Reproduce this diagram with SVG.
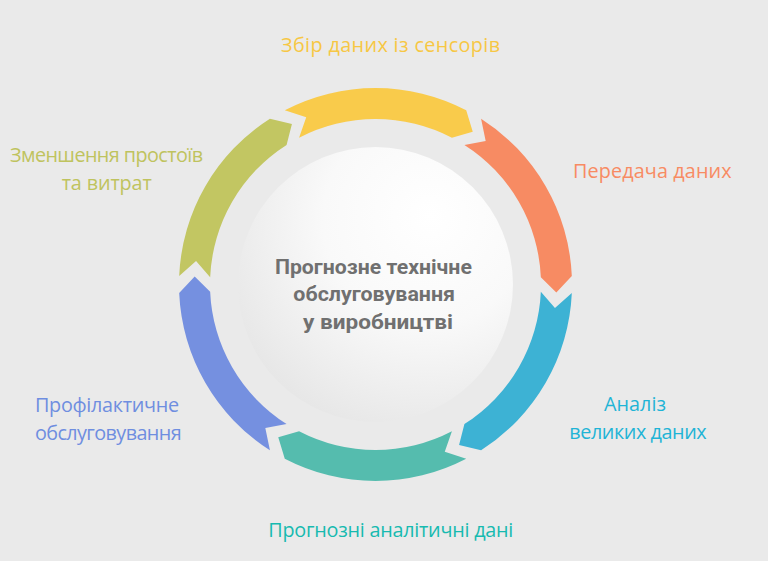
<svg xmlns="http://www.w3.org/2000/svg" width="768" height="561" viewBox="0 0 768 561">
  <defs>
    <radialGradient id="hub" cx="0.68" cy="0.28" r="0.85" fx="0.7" fy="0.25">
      <stop offset="0" stop-color="#ffffff"/>
      <stop offset="0.45" stop-color="#f9f9f9"/>
      <stop offset="1" stop-color="#e4e4e4"/>
    </radialGradient>
    <path id="seg" d="M -90.73 -174.30 A 196.5 196.5 0 0 1 90.73 -174.30 L 97.25 -152.65 L 76.42 -146.80 A 165.5 165.5 0 0 0 -76.42 -146.80 L -69.27 -167.22 Z"/>
  </defs>
  <style>
    .lbl { font-family: "Open Sans", "Noto Sans", "DejaVu Sans", sans-serif; font-size: 19.8px; text-anchor: middle; }
    .hubtxt { font-family: Roboto, "Liberation Sans", sans-serif; font-size: 21px; font-weight: bold; fill: #707070; text-anchor: middle; }
  </style>
  <rect width="768" height="561" fill="#eaeaea"/>

  <g id="connectors">
    <use href="#seg" transform="translate(375.5 284.5) rotate(0)" fill="#f9cb4b"/>
    <use href="#seg" transform="translate(375.5 284.5) rotate(60)" fill="#f78b63"/>
    <use href="#seg" transform="translate(375.5 284.5) rotate(120)" fill="#3db2d4"/>
    <use href="#seg" transform="translate(375.5 284.5) rotate(180)" fill="#55bcae"/>
    <use href="#seg" transform="translate(375.5 284.5) rotate(240)" fill="#7590e0"/>
    <use href="#seg" transform="translate(375.5 284.5) rotate(300)" fill="#c2c662"/>
  </g>

  <g id="hub-node">
    <circle cx="375.5" cy="284.5" r="137.5" fill="url(#hub)"/>
    <text class="hubtxt" x="373.4" y="273.5" textLength="197" lengthAdjust="spacingAndGlyphs">Прогнозне технічне</text>
    <text class="hubtxt" x="374.2" y="301" textLength="161.7" lengthAdjust="spacingAndGlyphs">обслуговування</text>
    <text class="hubtxt" x="378" y="328.5" textLength="150" lengthAdjust="spacingAndGlyphs">у виробництві</text>
  </g>

  <g id="node-sensors">
    <text class="lbl" x="390.5" y="52" fill="#f7c744" textLength="219">Збір даних із сенсорів</text>
  </g>
  <g id="node-transfer">
    <text class="lbl" x="652.3" y="178" fill="#f88b63" textLength="158.7">Передача даних</text>
  </g>
  <g id="node-bigdata">
    <text class="lbl" x="635" y="411" fill="#1fb4d6" textLength="62">Аналіз</text>
    <text class="lbl" x="638" y="439" fill="#1fb4d6" textLength="137.4">великих даних</text>
  </g>
  <g id="node-predictive">
    <text class="lbl" x="390.8" y="537" fill="#17bab0" textLength="245">Прогнозні аналітичні дані</text>
  </g>
  <g id="node-preventive">
    <text class="lbl" x="107" y="412" fill="#6f8ee0" textLength="144">Профілактичне</text>
    <text class="lbl" x="108.3" y="440" fill="#6f8ee0" textLength="146.7">обслуговування</text>
  </g>
  <g id="node-reduction">
    <text class="lbl" x="106.5" y="162" fill="#bfc35e" textLength="193">Зменшення простоїв</text>
    <text class="lbl" x="106.7" y="190" fill="#bfc35e" textLength="90">та витрат</text>
  </g>
</svg>
